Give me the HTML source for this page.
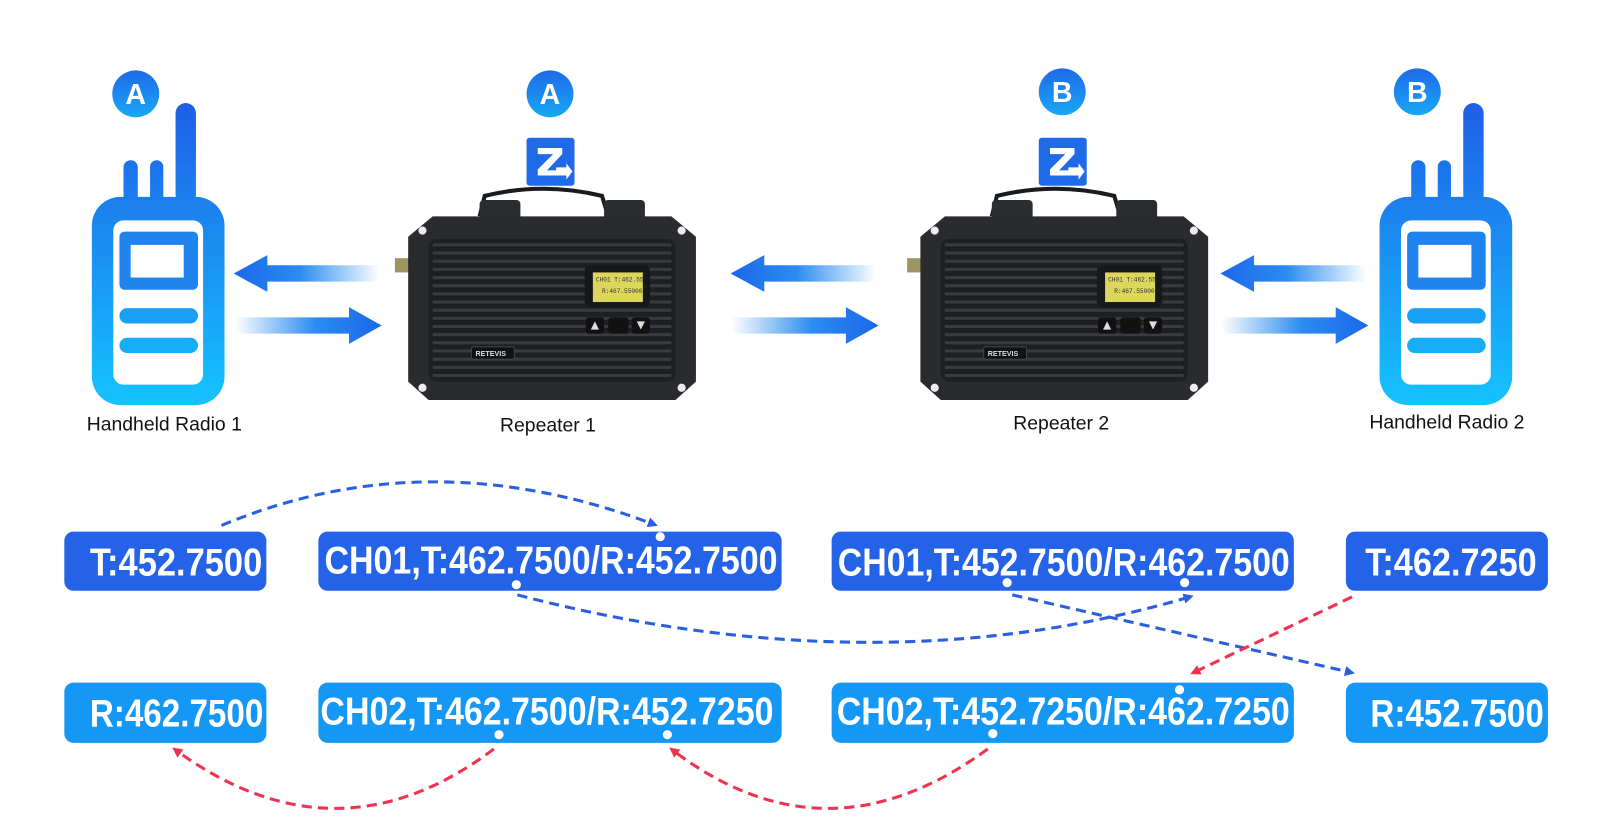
<!DOCTYPE html>
<html><head><meta charset="utf-8"><style>
html,body{margin:0;padding:0;background:#fff;width:1600px;height:837px;overflow:hidden}
svg{display:block}
.bt{font-family:"Liberation Sans",sans-serif;font-weight:bold;fill:#fff;font-size:38px}
.lb{font-family:"Liberation Sans",sans-serif;fill:#111;font-size:19px}
</style></head><body>
<svg width="1600" height="837" viewBox="0 0 1568 820.3" xmlns="http://www.w3.org/2000/svg">
<defs>
<linearGradient id="rg" gradientUnits="userSpaceOnUse" x1="0" y1="100" x2="0" y2="398"><stop offset="0" stop-color="#1f5ee6"/><stop offset="1" stop-color="#15c3ff"/></linearGradient>
<linearGradient id="bg" x1="0" y1="0" x2="0" y2="1"><stop offset="0" stop-color="#1f6ae8"/><stop offset="1" stop-color="#18a8f6"/></linearGradient>
<linearGradient id="al" x1="0" y1="0" x2="1" y2="0"><stop offset="0" stop-color="#1b67ea"/><stop offset="0.45" stop-color="#2a8cf0"/><stop offset="1" stop-color="#2a8cf0" stop-opacity="0"/></linearGradient>
<linearGradient id="ar" x1="1" y1="0" x2="0" y2="0"><stop offset="0" stop-color="#1b67ea"/><stop offset="0.45" stop-color="#2a8cf0"/><stop offset="1" stop-color="#2a8cf0" stop-opacity="0"/></linearGradient>
<marker id="mb" markerWidth="10" markerHeight="10" refX="6" refY="5" orient="auto" markerUnits="userSpaceOnUse"><path d="M0,0 L10,5 L0,10 Z" fill="#2b5fe0"/></marker>
<marker id="mr" markerWidth="10" markerHeight="10" refX="6" refY="5" orient="auto" markerUnits="userSpaceOnUse"><path d="M0,0 L10,5 L0,10 Z" fill="#ee3350"/></marker>
<g id="radio">
<rect x="172" y="101" width="20" height="100" rx="10" fill="url(#rg)"/>
<rect x="121" y="157" width="14" height="44" rx="7" fill="url(#rg)"/>
<rect x="147" y="157" width="13" height="44" rx="6.5" fill="url(#rg)"/>
<rect x="90" y="193" width="130" height="204" rx="28" fill="url(#rg)"/>
<rect x="111" y="216" width="88" height="161" rx="10" fill="#fff"/>
<rect x="117" y="227" width="77" height="57" rx="5" fill="#1f84ee"/>
<rect x="128" y="240" width="52" height="32" fill="#fff"/>
<rect x="117" y="302" width="77" height="15" rx="7.5" fill="#18a0f4"/>
<rect x="117" y="331" width="77" height="15" rx="7.5" fill="#16aef6"/>
</g>
<g id="rep">
<rect x="387" y="253" width="14" height="14" fill="#9c9563"/>
<path d="M470,212 L475,192 Q532,178 590,192 L596,212" fill="none" stroke="#1b1b1d" stroke-width="4"/>
<rect x="470" y="196" width="40" height="22" rx="4" fill="#2b2c30"/>
<rect x="592" y="196" width="40" height="22" rx="4" fill="#2b2c30"/>
<path d="M424,212 L658,212 L682,232 L682,374 L662,392 L420,392 L400,374 L400,232 Z" fill="#2a2b2f"/>
<rect x="420" y="234" width="242" height="140" rx="8" fill="#1e1f22"/>
<g stroke="#3a3b40" stroke-width="3">
<line x1="424" y1="240" x2="658" y2="240"/><line x1="424" y1="248" x2="658" y2="248"/><line x1="424" y1="256" x2="658" y2="256"/><line x1="424" y1="264" x2="658" y2="264"/><line x1="424" y1="272" x2="658" y2="272"/><line x1="424" y1="280" x2="658" y2="280"/><line x1="424" y1="288" x2="658" y2="288"/><line x1="424" y1="296" x2="658" y2="296"/><line x1="424" y1="304" x2="658" y2="304"/><line x1="424" y1="312" x2="658" y2="312"/><line x1="424" y1="320" x2="658" y2="320"/><line x1="424" y1="328" x2="658" y2="328"/><line x1="424" y1="336" x2="658" y2="336"/><line x1="424" y1="344" x2="658" y2="344"/><line x1="424" y1="352" x2="658" y2="352"/><line x1="424" y1="360" x2="658" y2="360"/><line x1="424" y1="368" x2="658" y2="368"/>
</g>
<rect x="573" y="260" width="64" height="41" rx="5" fill="#17181a"/>
<rect x="581" y="267" width="49" height="29" fill="#dcd75c"/>
<text x="584" y="276" font-family="Liberation Mono,monospace" font-size="6" fill="#333">CH01 T:462.55</text>
<text x="590" y="287" font-family="Liberation Mono,monospace" font-size="6" fill="#333">R:467.55000</text>
<rect x="574" y="311" width="18" height="16" rx="3" fill="#111"/>
<rect x="596" y="311" width="20" height="16" rx="3" fill="#111"/>
<rect x="619" y="311" width="18" height="16" rx="3" fill="#111"/>
<path d="M579,323 L583,315 L587,323Z M624,315 L632,315 L628,323Z" fill="#ddd"/>
<rect x="462" y="340" width="42" height="12" rx="2" fill="#111" stroke="#444"/>
<text x="466" y="349" font-family="Liberation Sans,sans-serif" font-size="7" font-weight="bold" fill="#ddd">RETEVIS</text>
<circle cx="414" cy="226" r="4" fill="#eee"/><circle cx="668" cy="226" r="4" fill="#eee"/>
<circle cx="414" cy="380" r="4" fill="#eee"/><circle cx="668" cy="380" r="4" fill="#eee"/>
<rect x="516" y="135" width="47" height="47" rx="3" fill="#1f6ae8"/>
<path d="M527,145 L551,145 L551,151 L536,167 L547,167 L547,172 L527,172 L527,166 L542,151 L527,151 Z" fill="#fff"/>
<path d="M545,164 L555,164 L555,160 L561,168 L555,176 L555,172 L545,172 Z" fill="#fff"/>
</g>
<g id="arrs">
<path d="M229,268 L262,250 L262,260 L372,260 L372,276 L262,276 L262,286 Z" fill="url(#al)"/>
<path d="M374,319 L342,301 L342,311 L230,311 L230,327 L342,327 L342,337 Z" fill="url(#ar)"/>
</g>
</defs>

<use href="#radio"/>
<use href="#radio" x="1262"/>
<use href="#rep"/>
<use href="#rep" x="502"/>
<use href="#arrs"/>
<use href="#arrs" x="487"/>
<use href="#arrs" x="967"/>

<circle cx="133" cy="92" r="23" fill="url(#bg)"/><text x="133" y="102" text-anchor="middle" font-family="Liberation Sans,sans-serif" font-weight="bold" font-size="28" fill="#fff">A</text>
<circle cx="539" cy="92" r="23" fill="url(#bg)"/><text x="539" y="102" text-anchor="middle" font-family="Liberation Sans,sans-serif" font-weight="bold" font-size="28" fill="#fff">A</text>
<circle cx="1041" cy="90" r="23" fill="url(#bg)"/><text x="1041" y="100" text-anchor="middle" font-family="Liberation Sans,sans-serif" font-weight="bold" font-size="28" fill="#fff">B</text>
<circle cx="1389" cy="90" r="23" fill="url(#bg)"/><text x="1389" y="100" text-anchor="middle" font-family="Liberation Sans,sans-serif" font-weight="bold" font-size="28" fill="#fff">B</text>

<text class="lb" x="161" y="422" text-anchor="middle">Handheld Radio 1</text>
<text class="lb" x="537" y="423" text-anchor="middle">Repeater 1</text>
<text class="lb" x="1040" y="421" text-anchor="middle">Repeater 2</text>
<text class="lb" x="1418" y="420" text-anchor="middle">Handheld Radio 2</text>

<rect x="63" y="521" width="198" height="58" rx="9" fill="#2463e8"/>
<rect x="312" y="521" width="454" height="58" rx="9" fill="#2463e8"/>
<rect x="815" y="521" width="453" height="58" rx="9" fill="#2463e8"/>
<rect x="1319" y="521" width="198" height="58" rx="9" fill="#2463e8"/>
<rect x="63" y="669" width="198" height="59" rx="9" fill="#1497f5"/>
<rect x="312" y="669" width="454" height="59" rx="9" fill="#1497f5"/>
<rect x="815" y="669" width="453" height="59" rx="9" fill="#1497f5"/>
<rect x="1319" y="669" width="198" height="59" rx="9" fill="#1497f5"/>

<text class="bt" x="88" y="564" textLength="169" lengthAdjust="spacingAndGlyphs">T:452.7500</text>
<text class="bt" x="318" y="562" textLength="444" lengthAdjust="spacingAndGlyphs">CH01,T:462.7500/R:452.7500</text>
<text class="bt" x="821" y="564" textLength="443" lengthAdjust="spacingAndGlyphs">CH01,T:452.7500/R:462.7500</text>
<text class="bt" x="1338" y="564" textLength="168" lengthAdjust="spacingAndGlyphs">T:462.7250</text>
<text class="bt" x="88" y="712" textLength="170" lengthAdjust="spacingAndGlyphs">R:462.7500</text>
<text class="bt" x="314" y="710" textLength="444" lengthAdjust="spacingAndGlyphs">CH02,T:462.7500/R:452.7250</text>
<text class="bt" x="820" y="710" textLength="444" lengthAdjust="spacingAndGlyphs">CH02,T:452.7250/R:462.7250</text>
<text class="bt" x="1343" y="712" textLength="170" lengthAdjust="spacingAndGlyphs">R:452.7500</text>

<g fill="none" stroke-width="3" stroke-dasharray="10,6">
<path d="M217,515 Q420,430 641,514" stroke="#2b5fe0" marker-end="url(#mb)"/>
<path d="M507,583 Q860,675 1166,585" stroke="#2b5fe0" marker-end="url(#mb)"/>
<path d="M992,583 L1324,659" stroke="#2b5fe0" marker-end="url(#mb)"/>
<path d="M1325,585 L1170,659" stroke="#ee3350" marker-end="url(#mr)"/>
<path d="M484,734 Q330,850 172,735" stroke="#ee3350" marker-end="url(#mr)"/>
<path d="M968,734 Q810,850 659,735" stroke="#ee3350" marker-end="url(#mr)"/>
</g>
<g fill="#fff">
<circle cx="647" cy="526" r="4.5"/><circle cx="506" cy="573" r="4.5"/>
<circle cx="987" cy="571" r="4.5"/><circle cx="1161" cy="571" r="4.5"/>
<circle cx="489" cy="720" r="4.5"/><circle cx="654" cy="720" r="4.5"/>
<circle cx="973" cy="719" r="4.5"/><circle cx="1156" cy="676" r="4.5"/>
</g>
</svg>
</body></html>
